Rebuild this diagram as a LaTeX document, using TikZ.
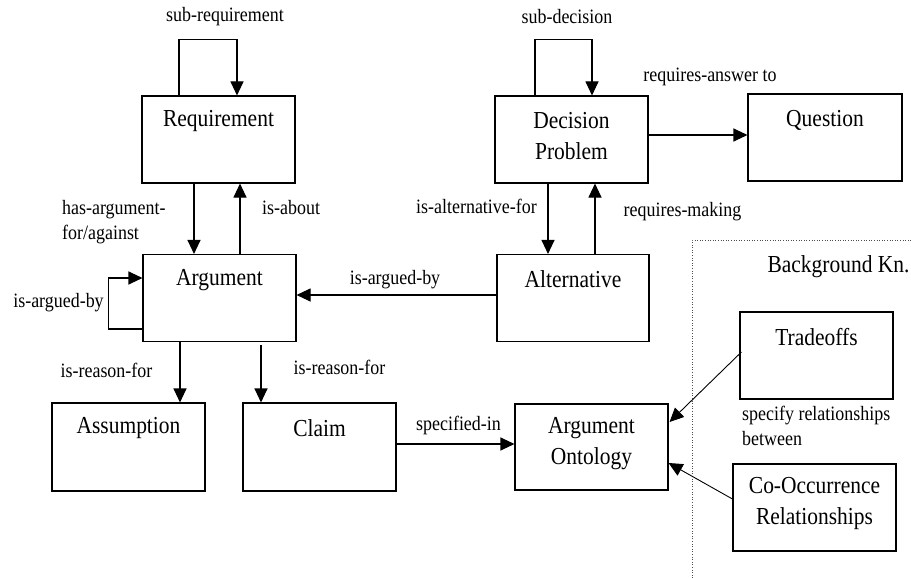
\documentclass[tikz,border=0pt]{standalone}
\usepackage{fontspec}
\setmainfont{Liberation Serif}[FakeStretch=0.88]
\usetikzlibrary{arrows.meta,calc}
\begin{document}
\begin{tikzpicture}[x=1pt,y=-1pt,
  box/.style={draw, line width=1.1pt, minimum width=153pt, minimum height=87pt, inner sep=0pt},
  btxt/.style={font=\fontsize{24.4}{31}\selectfont, align=center, inner sep=0pt},
  lbl/.style={font=\fontsize{20.4}{24.5}\selectfont, inner sep=0pt},
  arr/.style={line width=1.1pt, -{Triangle[length=14pt,width=13pt]}},
  ln/.style={line width=1.1pt},
  dotline/.style={line width=0.6pt, dotted, black!70}]
\useasboundingbox (0,0) rectangle (911,578);
% boxes
\node[box] (req) at (218.5,139.5) {};
\node[box] (arg) at (219.5,298) {};
\node[box] (dp) at (571.5,139.5) {};
\node[box, minimum width=154pt] (q) at (825,137.5) {};
\node[box, minimum width=152pt] (alt) at (573,298) {};
\node[box] (trade) at (816.5,355.5) {};
\node[box, minimum width=163pt] (cooc) at (814.5,507.5) {};
\node[box, minimum height=86pt] (ao) at (591.5,447) {};
\node[box, minimum height=88pt] (claim) at (319.5,447) {};
\node[box, minimum height=88pt] (assump) at (128.5,447) {};
% box texts
\node[btxt] (reqt) at (218.5,121) {Requirement};
\node[btxt] (argt) at (219.5,280) {Argument};
\node[btxt] (dpt) at (571.5,136) {Decision\\Problem};
\node[btxt] (qt) at (825,120) {Question};
\node[btxt] (altt) at (573,279) {Alternative};
\node[btxt] (tradet) at (816.5,337) {Tradeoffs};
\node[btxt] (cooct) at (814.5,503.5) {Co-Occurrence\\Relationships};
\node[btxt] (aot) at (591.5,443.5) {Argument\\Ontology};
\node[btxt] (claimt) at (319.5,428) {Claim};
\node[btxt] (assumpt) at (128.5,428) {Assumption};
\node[btxt] (bgk) at (838.5,267) {Background Kn.};
% dotted background region
\coordinate (bgA) at (692,578);
\coordinate (bgB) at (692,240);
\coordinate (bgC) at (911,240);
\draw[dotline] (bgA) -- (bgB) -- (bgC);
% connectors
\draw[arr] ($(req.north)+(-39.5,0)$) -- ++(0,-56) -| ($(req.north)+(18.5,0)$);
\draw[arr] ($(req.south)+(-24.5,0)$) coordinate (h1) -- (h1 |- arg.north);
\draw[arr] ($(arg.north)+(20.5,0)$) coordinate (h2) -- (h2 |- req.south);
\draw[arr] ($(arg.west)+(0,31)$) -- ++(-34,0) |- ($(arg.west)+(0,-20)$);
\draw[arr] ($(alt.west)+(0,-3)$) coordinate (h3) -- (h3 -| arg.east);
\draw[arr] ($(dp.north)+(-36.5,0)$) -- ++(0,-56) -| ($(dp.north)+(20.5,0)$);
\draw[arr] ($(dp.south)+(-23.5,0)$) coordinate (h4) -- (h4 |- alt.north);
\draw[arr] ($(alt.north)+(22,0)$) coordinate (h5) -- (h5 |- dp.south);
\draw[arr] ($(dp.east)+(0,-4.5)$) coordinate (h6) -- (h6 -| q.west);
\draw[arr] ($(arg.south)+(-39.5,0)$) coordinate (h7) -- (h7 |- assump.north);
\draw[arr] ($(arg.south)+(41.5,3)$) coordinate (h8) -- (h8 |- claim.north);
\draw[arr] ($(claim.east)+(0,-3)$) coordinate (h9) -- (h9 -| ao.west);
\draw[arr, line width=0.9pt] ($(trade.west)+(2,-3.5)$) -- ($(ao.east)+(1,-25)$);
\draw[arr, line width=0.9pt] ($(cooc.west)+(0,-8.5)$) -- ($(ao.east)+(0,16)$);
% labels
\node[lbl] (l1) at (225,17) {sub-requirement};
\node[lbl, anchor=west, align=left] (l2) at (62,222) {has-argument-\\for/against};
\node[lbl, anchor=west] (l3) at (262,208) {is-about};
\node[lbl] (l4) at (58.5,303) {is-argued-by};
\node[lbl] (l5) at (395,280) {is-argued-by};
\node[lbl] (l6) at (567,17) {sub-decision};
\node[lbl] (l7) at (710,77) {requires-answer to};
\node[lbl] (l8) at (476.5,206) {is-alternative-for};
\node[lbl] (l9) at (682.5,212) {requires-making};
\node[lbl] (l10) at (106.5,370) {is-reason-for};
\node[lbl] (l11) at (339.5,367) {is-reason-for};
\node[lbl] (l12) at (458.5,425) {specified-in};
\node[lbl, anchor=west, align=left] (l13) at (742,426) {specify relationships\\between};
\end{tikzpicture}
\end{document}
